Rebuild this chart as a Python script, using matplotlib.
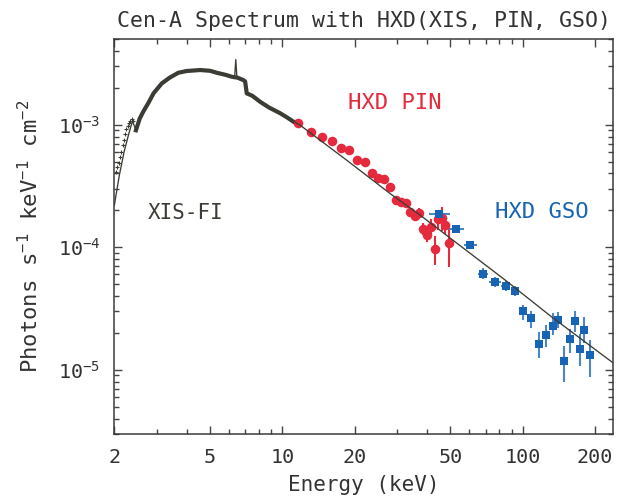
import numpy as np
import matplotlib
matplotlib.use("Agg")
import matplotlib.pyplot as plt
from matplotlib.ticker import FixedLocator, NullFormatter, FixedFormatter

plt.rcParams['font.family'] = ['DejaVu Sans Mono', 'DejaVu Sans']
plt.rcParams['mathtext.default'] = 'regular'

# XIS-FI soft points below 2.5 keV
soft_e = [2.03, 2.06, 2.09, 2.11, 2.14, 2.17, 2.19, 2.22, 2.24, 2.27, 2.30, 2.32, 2.36, 2.40]
soft_f = [4.13e-4, 4.53e-4, 4.89e-4, 5.41e-4, 6.01e-4, 6.82e-4, 7.49e-4, 8.34e-4,
          9.16e-4, 9.74e-4, 1.04e-3, 1.08e-3, 1.105e-3, 1.08e-3]

# XIS-FI spectrum (dense band)
xis_e = [2.46, 2.55, 2.64, 2.78, 2.91, 3.15, 3.4, 3.69, 4.0, 4.55, 5.0, 5.34, 5.8,
         6.16, 6.3, 6.5, 6.88, 7.0, 7.11, 7.5, 8.07, 8.8, 9.79, 10.5, 11.1]
xis_f = [9.0e-4, 1.12e-3, 1.28e-3, 1.52e-3, 1.80e-3, 2.17e-3, 2.42e-3, 2.65e-3,
         2.74e-3, 2.79e-3, 2.75e-3, 2.65e-3, 2.55e-3, 2.46e-3, 2.44e-3, 2.42e-3,
         2.31e-3, 2.25e-3, 1.80e-3, 1.72e-3, 1.54e-3, 1.38e-3, 1.24e-3, 1.14e-3, 1.06e-3]

# HXD PIN
pin_e = [11.66, 13.13, 14.59, 16.06, 17.56, 19.01, 20.52, 22.10, 23.63, 25.09, 26.58,
         28.08, 29.65, 31.11, 32.63, 34.00, 35.67, 37.17, 38.63, 40.14, 41.48, 43.01,
         44.57, 46.22, 47.56, 49.18]
pin_f = [1.025e-3, 8.66e-4, 7.97e-4, 7.39e-4, 6.41e-4, 6.24e-4, 5.14e-4, 4.95e-4,
         4.01e-4, 3.64e-4, 3.60e-4, 3.11e-4, 2.42e-4, 2.35e-4, 2.28e-4, 1.95e-4,
         1.80e-4, 1.91e-4, 1.42e-4, 1.26e-4, 1.47e-4, 9.75e-5, 1.70e-4, 1.74e-4,
         1.52e-4, 1.09e-4]
pin_rel = [0.03, 0.03, 0.03, 0.03, 0.04, 0.04, 0.04, 0.04, 0.05, 0.05, 0.05, 0.05, 0.06,
           0.06, 0.07, 0.07, 0.08, 0.09, 0.12, 0.13, 0.15, 0.26, 0.18, 0.22, 0.16, 0.37]

# HXD GSO
gso_e = [45.0, 52.8, 60.3, 68.3, 77.0, 84.8, 92.4, 100.7, 108.7, 116.3, 124.6, 133.0,
         140.8, 149.0, 156.5, 164.2, 172.2, 180.5, 189.5]
gso_f = [1.86e-4, 1.41e-4, 1.04e-4, 6.1e-5, 5.2e-5, 4.8e-5, 4.4e-5, 3.0e-5, 2.67e-5,
         1.64e-5, 1.94e-5, 2.30e-5, 2.54e-5, 1.19e-5, 1.77e-5, 2.49e-5, 1.47e-5,
         2.13e-5, 1.31e-5]
gso_lo = [1.77e-4, 1.34e-4, 0.98e-4, 5.56e-5, 4.7e-5, 4.4e-5, 4.0e-5, 2.54e-5, 2.2e-5,
          1.26e-5, 1.54e-5, 1.92e-5, 2.18e-5, 7.97e-6, 1.37e-5, 2.04e-5, 1.07e-5,
          1.66e-5, 8.75e-6]
gso_hi = [1.96e-4, 1.48e-4, 1.10e-4, 6.72e-5, 5.7e-5, 5.3e-5, 4.82e-5, 3.38e-5, 3.0e-5,
          2.03e-5, 2.31e-5, 2.92e-5, 2.97e-5, 1.58e-5, 2.17e-5, 3.01e-5, 1.98e-5,
          2.70e-5, 1.74e-5]
gso_elo = [40.9, 49.1, 56.7, 65.1, 72.7, 81.5, 89.0, 97.0, 105.0, 112.5, 120.5, 129.0,
           137.0, 145.0, 152.5, 160.0, 168.0, 176.0, 185.0]
gso_ehi = [49.6, 57.0, 64.8, 72.0, 81.1, 88.0, 96.0, 104.5, 112.5, 120.5, 129.0, 137.0,
           145.0, 153.0, 160.5, 168.5, 176.5, 185.0, 194.0]

# best-fit model curve
model_e = [2.0, 2.1, 2.2, 2.3, 2.38, 2.46, 2.55, 2.64, 2.91, 3.15, 3.69, 4.0, 4.55, 5.0,
           5.34, 6.16, 6.33, 6.4, 6.47, 6.88, 7.05, 7.15, 8.07, 9.79, 11.86, 18.5, 28.0,
           37.4, 84.5, 132.0, 239.0]
model_f = [2.2e-4, 3.9e-4, 6.1e-4, 8.5e-4, 1.07e-3, 9.0e-4, 1.10e-3, 1.27e-3, 1.78e-3,
           2.15e-3, 2.63e-3, 2.72e-3, 2.77e-3, 2.73e-3, 2.64e-3, 2.45e-3, 2.42e-3,
           3.40e-3, 2.42e-3, 2.30e-3, 2.27e-3, 1.80e-3, 1.53e-3, 1.23e-3, 9.9e-4,
           5.14e-4, 2.75e-4, 1.83e-4, 5.4e-5, 2.7e-5, 1.13e-5]

xticks = [2, 5, 10, 20, 50, 100, 200]
xtick_labels = ['2', '5', '10', '20', '50', '100', '200']
yticks = [1e-5, 1e-4, 1e-3]
ytick_labels = ['$10^{-5}$', '$10^{-4}$', '$10^{-3}$']

dark = '#3c3c35'
red = '#e62a3e'
blue = '#1763b4'

fig = plt.figure(figsize=(6.17, 4.99), dpi=100)
ax = fig.add_axes([0.1853, 0.1303, 0.8087, 0.7916])
ax.set_xscale('log')
ax.set_yscale('log')

ax.plot(xis_e, xis_f, color=dark, lw=3.0, solid_joinstyle='round', zorder=2)
ax.plot(soft_e, soft_f, '+', color=dark, ms=3, mew=0.8, zorder=2)

pin_e = np.array(pin_e)
pin_f = np.array(pin_f)
pin_err = pin_f * np.array(pin_rel)
ax.errorbar(pin_e, pin_f, xerr=pin_e * 0.03, yerr=pin_err, fmt='o', ms=6.9, mew=0,
            color=red, ecolor=red, elinewidth=1.5, capsize=0, zorder=3)

gso_e = np.array(gso_e)
gso_f = np.array(gso_f)
ax.errorbar(gso_e, gso_f,
            xerr=[gso_e - np.array(gso_elo), np.array(gso_ehi) - gso_e],
            yerr=[gso_f - np.array(gso_lo), np.array(gso_hi) - gso_f],
            fmt='s', ms=5.3, mew=0, color=blue, ecolor='#4c86c6', elinewidth=1.5,
            capsize=0, zorder=3)

ax.plot(model_e, model_f, color=dark, lw=0.95, zorder=5)

ax.text(29.4, 1.5e-3, 'HXD PIN', color=red, fontsize=16, ha='center', va='center')
ax.text(120.5, 1.94e-4, 'HXD GSO', color=blue, fontsize=16, ha='center', va='center')
ax.text(3.97, 1.9e-4, 'XIS-FI', color=dark, fontsize=15, ha='center', va='center')

ax.set_xlim(2, 238)
ax.set_ylim(3e-6, 5e-3)

ax.xaxis.set_major_locator(FixedLocator(xticks))
ax.xaxis.set_major_formatter(FixedFormatter(xtick_labels))
ax.xaxis.set_minor_locator(FixedLocator([3, 4, 6, 7, 8, 9, 30, 40, 60, 70, 80, 90]))
ax.xaxis.set_minor_formatter(NullFormatter())
ax.yaxis.set_major_locator(FixedLocator(yticks))
ax.yaxis.set_major_formatter(FixedFormatter(ytick_labels))
ax.yaxis.set_minor_locator(matplotlib.ticker.LogLocator(base=10, subs=np.arange(2, 10)))
ax.yaxis.set_minor_formatter(NullFormatter())

ax.tick_params(which='both', direction='in', top=True, right=True, color='#444444',
               width=1.0, labelsize=14.5, labelcolor='#333333')
ax.tick_params(which='major', length=6, pad=10)
ax.tick_params(which='minor', length=3.5)
for s in ax.spines.values():
    s.set_linewidth(1.1)
    s.set_color('#3a3a3a')

ax.set_xlabel('Energy (keV)', fontsize=15, color='#333333')
ax.xaxis.set_label_coords(0.5, -0.105)
ax.set_ylabel('Photons s$^{-1}$ keV$^{-1}$ cm$^{-2}$', fontsize=16, color='#333333')
ax.yaxis.set_label_coords(-0.145, 0.5)
ax.set_title('Cen-A Spectrum with HXD(XIS, PIN, GSO)', fontsize=15.5, color='#333333', pad=8.5)

fig.savefig('out.png', dpi=100)
